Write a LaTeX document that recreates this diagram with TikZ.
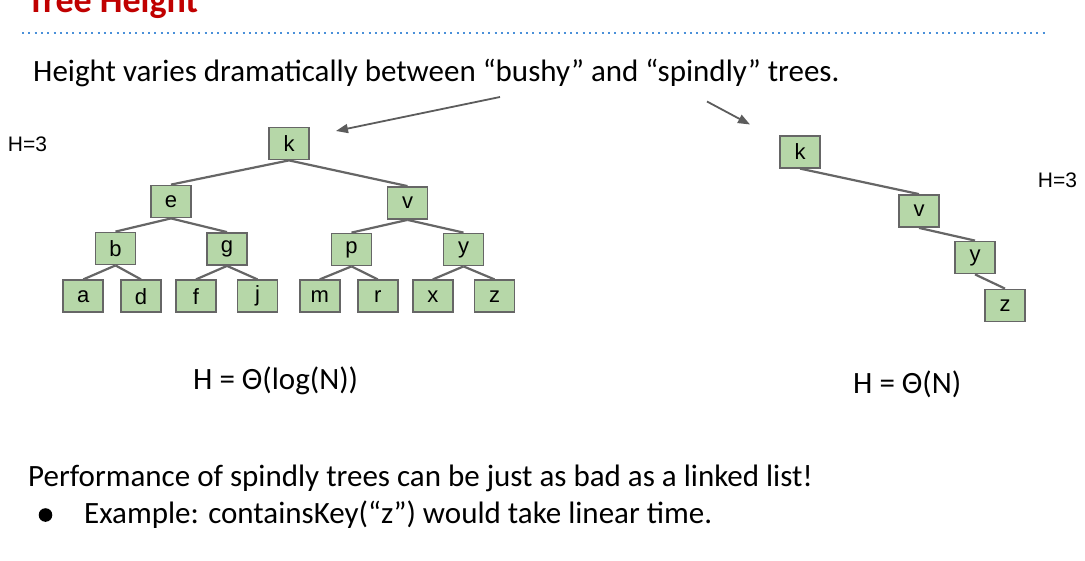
\documentclass[tikz,border=0pt]{standalone}
\usepackage{fontspec}
\setmainfont{Carlito}
\newfontfamily\arial{Liberation Sans}
\usetikzlibrary{arrows.meta,backgrounds}
\definecolor{nodefill}{HTML}{B6D7A8}
\definecolor{edgegray}{HTML}{666666}
\definecolor{titlered}{HTML}{C00000}
\definecolor{dotblue}{HTML}{4A90D9}
\begin{document}
\begin{tikzpicture}[x=1pt,y=-1pt,
  tnode/.style={draw=edgegray,fill=nodefill,line width=1.8pt,minimum width=40pt,minimum height=32pt,inner sep=0pt,font=\arial\fontsize{22}{25}\selectfont},
  tedge/.style={draw=edgegray,line width=2.2pt},
  pointer/.style={draw=edgegray!90!black,line width=1.8pt,-{Triangle[length=12pt,width=9pt]}},
  body/.style={font=\fontsize{31}{36}\selectfont,inner sep=0pt,anchor=base west},
  hlabel/.style={font=\arial\fontsize{21}{24}\selectfont,inner sep=0pt}]
\useasboundingbox (0,0) rectangle (1085,561);
\clip (0,0) rectangle (1085,561);
% title and rule
\node[font=\bfseries\fontsize{36}{40}\selectfont,text=titlered,inner sep=0pt,anchor=base west] (title) at (27,13) {Tree Height};
\coordinate (ruleL) at (22,33);
\coordinate (ruleR) at (1046,33);
\draw[dotblue,line width=2pt,dash pattern=on 2pt off 4.3pt] (ruleL) -- (ruleR);
% top text
\node[body] (intro) at (33,82) {Height varies dramatically between “bushy” and “spindly” trees.};
% bushy tree
\node[tnode] (k) at (289,143.5) {k};
\node[tnode] (e) at (171,201.5) {e};
\node[tnode] (v) at (407.5,203) {v};
\node[tnode] (b) at (115.5,248.5) {b};
\node[tnode] (g) at (227,249) {g};
\node[tnode] (p) at (351.5,249.5) {p};
\node[tnode] (y) at (463.5,249.5) {y};
\node[tnode] (a) at (83.3,296.3) {a};
\node[tnode] (d) at (141,296.3) {d};
\node[tnode] (f) at (196,296.3) {f};
\node[tnode] (j) at (257.5,296.3) {j};
\node[tnode] (m) at (319.7,296.3) {m};
\node[tnode] (r) at (377.8,296.3) {r};
\node[tnode] (x) at (432.8,296.3) {x};
\node[tnode] (z) at (494.5,296.3) {z};
% spindly tree
\node[tnode] (k2) at (800,151.7) {k};
\node[tnode] (v2) at (919,211) {v};
\node[tnode] (y2) at (975,257.5) {y};
\node[tnode] (z2) at (1005,305.5) {z};
\begin{pgfonlayer}{background}
\draw[tedge] (k.south) -- (e.north);
\draw[tedge] (k.south) -- (v.north);
\draw[tedge] (e.south) -- (b.north);
\draw[tedge] (e.south) -- (g.north);
\draw[tedge] (v.south) -- (p.north);
\draw[tedge] (v.south) -- (y.north);
\draw[tedge] (b.south) -- (a.north);
\draw[tedge] (b.south) -- (d.north);
\draw[tedge] (g.south) -- (f.north);
\draw[tedge] (g.south) -- (j.north);
\draw[tedge] (p.south) -- (m.north);
\draw[tedge] (p.south) -- (r.north);
\draw[tedge] (y.south) -- (x.north);
\draw[tedge] (y.south) -- (z.north);
\draw[tedge] (k2.south) -- (v2.north);
\draw[tedge] (v2.south) -- (y2.north);
\draw[tedge] (y2.south) -- (z2.north);
\end{pgfonlayer}
% pointer arrows
\coordinate (p1s) at (500,97);
\coordinate (p1e) at (336,131);
\coordinate (p2s) at (707,101.5);
\coordinate (p2e) at (750,124.5);
\draw[pointer] (p1s) -- (p1e);
\draw[pointer] (p2s) -- (p2e);
% height labels
\node[hlabel] (hl) at (27.5,144.5) {H=3};
\node[hlabel] (hr) at (1057.5,180) {H=3};
\node[body] (th1) at (193,389) {H = Θ(log(N))};
\node[body] (th2) at (853,394) {H = Θ(N)};
% bottom text
\node[body] (perf) at (28,486) {Performance of spindly trees can be just as bad as a linked list!};
\fill (45.5,515) circle (6.8pt);
\node[body] (ex) at (84,523) {Example: containsKey(“z”) would take linear time.};
\end{tikzpicture}
\end{document}
